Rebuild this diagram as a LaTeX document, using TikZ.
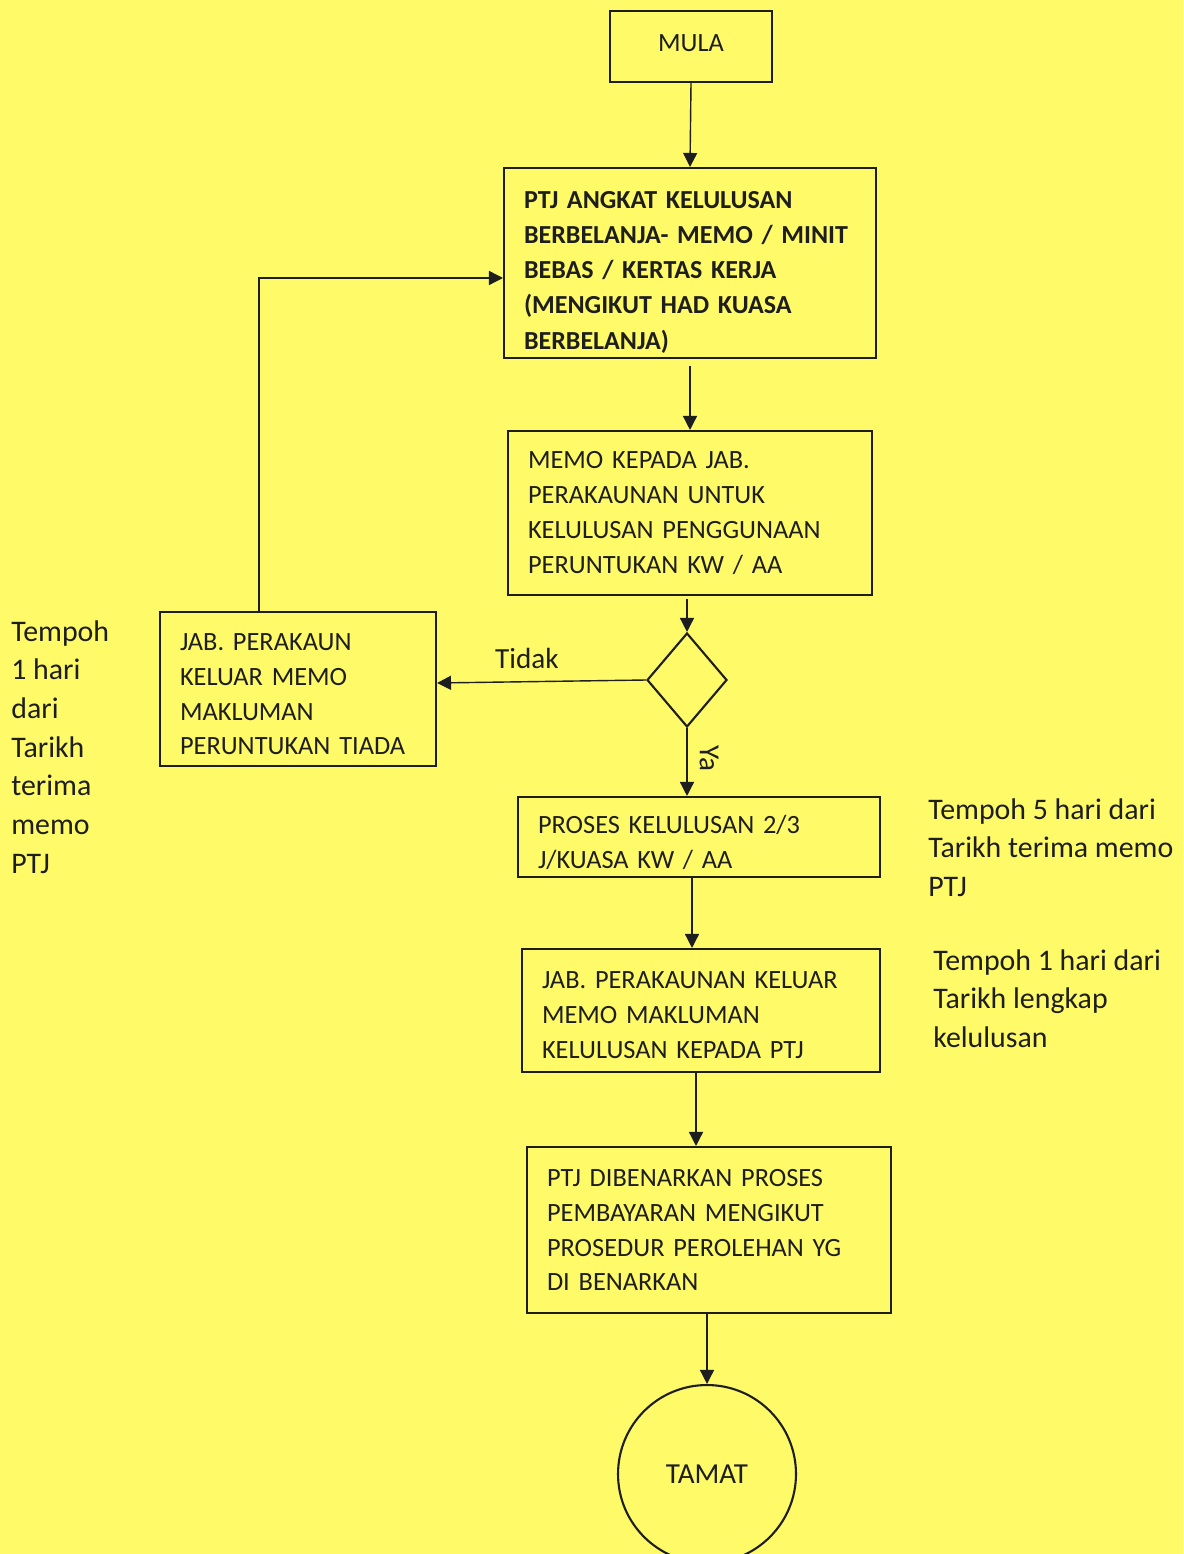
\documentclass[tikz,border=0pt]{standalone}
\usepackage{fontspec}
\setmainfont{Carlito}
\usetikzlibrary{shapes.geometric,arrows.meta}
\definecolor{bg}{RGB}{255,250,104}
\definecolor{ink}{RGB}{30,30,30}
\begin{document}
\begin{tikzpicture}[x=0.02cm,y=-0.02cm,
  box/.style={draw=ink, line width=1.2pt, rectangle, align=left, inner xsep=0.4cm, inner ysep=0pt,
    font=\fontsize{15}{19.85}\selectfont, text=ink},
  arr/.style={draw=ink, line width=0.8pt, -{Triangle[length=0.28cm,width=0.28cm]}},
  lbl/.style={text=ink, font=\fontsize{16.6}{22}\selectfont},
  note/.style={align=left, inner sep=0pt, anchor=north west, text=ink, font=\fontsize{17}{22}\selectfont}]
\path[use as bounding box, fill=bg] (0,0) rectangle (1183,1554);

\node[box, align=center, inner xsep=0pt, minimum width=3.24cm, minimum height=1.42cm] (mula) at (691,46.5) {\raisebox{0.12cm}{MULA}};
\node[box, text width=6.64cm, minimum height=3.8cm, font=\fontsize{14.8}{20}\selectfont\bfseries] (ptj) at (690,263)
  {\rule{0pt}{0.71cm}PTJ ANGKAT KELULUSAN\\BERBELANJA- MEMO / MINIT\\BEBAS / KERTAS KERJA\\(MENGIKUT HAD KUASA\\BERBELANJA)};
\node[box, text width=6.48cm, minimum height=3.28cm] (memo) at (690,513)
  {MEMO KEPADA JAB.\\PERAKAUNAN UNTUK\\KELULUSAN PENGGUNAAN\\PERUNTUKAN KW / AA};
\node[draw=ink, line width=1.2pt, diamond, inner sep=0pt, minimum width=1.6cm, minimum height=1.88cm] (dia) at (687,680) {};
\node[box, text width=4.72cm, minimum height=3.08cm] (jab) at (298,689)
  {\rule{0pt}{0.55cm}JAB. PERAKAUN\\KELUAR MEMO\\MAKLUMAN\\PERUNTUKAN TIADA};
\node[box, text width=6.44cm, minimum height=1.6cm] (proses) at (699,837)
  {\rule{0pt}{0.59cm}PROSES KELULUSAN 2/3\\J/KUASA KW / AA};
\node[box, text width=6.36cm, minimum height=2.46cm] (jabb) at (701,1010.5)
  {\rule{0pt}{0.51cm}JAB. PERAKAUNAN KELUAR\\MEMO MAKLUMAN\\KELULUSAN KEPADA PTJ};
\node[box, text width=6.48cm, minimum height=3.32cm] (ptjb) at (709,1230)
  {PTJ DIBENARKAN PROSES\\PEMBAYARAN MENGIKUT\\PROSEDUR PEROLEHAN YG\\DI BENARKAN};
\node[draw=ink, line width=1.2pt, circle, minimum size=3.56cm, inner sep=0pt, text=ink,
  font=\fontsize{16.5}{20}\selectfont] (tamat) at (707,1474) {TAMAT};

\draw[arr] (mula.south) -- (ptj.north);
\draw[arr] ([yshift=-0.14cm]ptj.south) -- (memo.north);
\draw[arr] ([yshift=-0.06cm]memo.south -| dia.north) -- (dia.north);
\draw[arr] (dia.west) -- ([yshift=-0.06cm]dia.west -| jab.east) node[pos=0.57, above=0.12cm, lbl] (tidak) {Tidak};
\draw[arr] ([xshift=-0.78cm]jab.north) |- ([yshift=-0.3cm]ptj.west);
\draw[arr] (dia.south) -- (dia.south |- proses.north) node[pos=0.45, rotate=-90, anchor=south, yshift=0.12cm, lbl] (ya) {Ya};
\draw[arr] ([xshift=-0.14cm]proses.south) -- ([xshift=-0.14cm]proses.south |- jabb.north);
\draw[arr] ([xshift=-0.1cm]jabb.south) -- ([xshift=-0.1cm]jabb.south |- ptjb.north);
\draw[arr] (ptjb.south -| tamat.north) -- (tamat.north);

\node[note] (n1) at (11,620) {Tempoh\\1 hari\\dari\\Tarikh\\terima\\memo\\PTJ};
\node[note] (n2) at (928,798) {Tempoh 5 hari dari\\Tarikh terima memo\\PTJ};
\node[note] (n3) at (933,949) {Tempoh 1 hari dari\\Tarikh lengkap\\kelulusan};
\end{tikzpicture}
\end{document}
